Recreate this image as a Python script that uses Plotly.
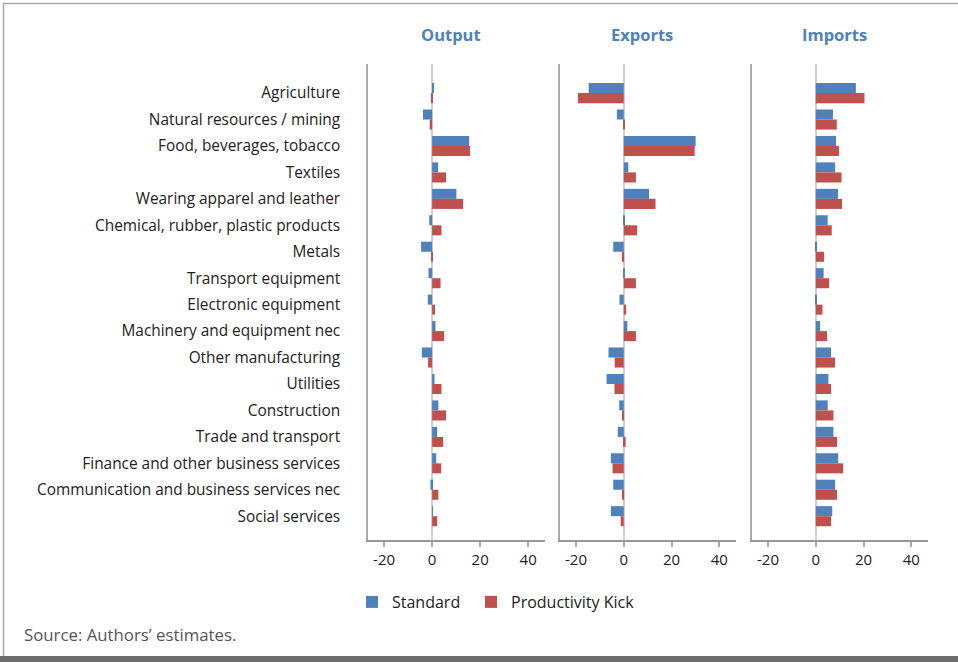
import plotly.graph_objects as go

categories = [
    "Agriculture", "Natural resources / mining", "Food, beverages, tobacco", "Textiles",
    "Wearing apparel and leather", "Chemical, rubber, plastic products", "Metals",
    "Transport equipment", "Electronic equipment", "Machinery and equipment nec",
    "Other manufacturing", "Utilities", "Construction", "Trade and transport",
    "Finance and other business services", "Communication and business services nec",
    "Social services",
]

output_standard = [0.4, -3.8, 15.4, 2.5, 10.1, -1.2, -4.6, -1.5, -1.8, 1.4, -4.3, 1.0, 2.6, 2.1, 1.7, -0.7, 0.3]
output_kick = [-0.5, -1.0, 15.8, 5.8, 12.9, 3.9, -0.4, 3.5, 1.2, 5.0, -1.7, 3.9, 5.8, 4.6, 3.8, 2.6, 2.1]

exports_standard = [-14.7, -2.9, 30.1, 1.9, 10.6, 0.3, -4.4, 0.2, -1.8, 1.5, -6.4, -7.2, -1.9, -2.5, -5.4, -4.4, -5.4]
exports_kick = [-19.2, 0.3, 29.7, 5.1, 13.3, 5.6, -0.8, 5.1, 1.0, 5.1, -3.8, -3.9, -0.4, 0.8, -4.7, -0.7, -1.3]

imports_standard = [16.8, 7.2, 8.5, 8.1, 9.3, 5.0, 0.5, 3.3, 0.4, 1.8, 6.4, 5.3, 5.0, 7.4, 9.4, 8.1, 6.9]
imports_kick = [20.4, 8.8, 9.7, 10.8, 11.0, 6.7, 3.5, 5.6, 2.8, 4.7, 8.1, 6.4, 7.4, 8.9, 11.5, 8.9, 6.4]

panel_titles = ["Output", "Exports", "Imports"]
series_names = ["Standard", "Productivity Kick"]
x_ticks = [-20, 0, 20, 40]

BLUE = "#4F81BD"
RED = "#C0504D"
FONT = "Open Sans"
W, H = 958, 662

panels = [
    (output_standard, output_kick),
    (exports_standard, exports_kick),
    (imports_standard, imports_kick),
]
px_domains = [(368, 545), (560, 736), (752, 928)]
y_dom = [1 - 540 / H, 1 - 64 / H]

fig = go.Figure()
for i, (std, kick) in enumerate(panels):
    suffix = "" if i == 0 else str(i + 1)
    for j, (name, vals, col) in enumerate(((series_names[0], std, BLUE), (series_names[1], kick, RED))):
        fig.add_trace(go.Bar(
            x=vals, y=categories, orientation="h", name=name,
            marker=dict(color=col, line=dict(width=0)),
            xaxis="x" + suffix, yaxis="y" + suffix,
            showlegend=(i == 0), legendgroup=name,
            legend="legend" if j == 0 else "legend2",
        ))

leg_common = dict(orientation="h", y=1 - 585 / H, xanchor="left", yanchor="top",
                  font=dict(size=16, color="#222"), itemwidth=30, bgcolor="rgba(0,0,0,0)")
layout = dict(
    width=W, height=H, barmode="group", bargap=0.24, bargroupgap=0,
    margin=dict(l=0, r=0, t=0, b=0),
    paper_bgcolor="white", plot_bgcolor="white",
    font=dict(family=FONT, size=15, color="#222"),
    showlegend=True,
    legend=dict(x=352 / W, **leg_common),
    legend2=dict(x=471 / W, **leg_common),
)
for i in range(3):
    suffix = "" if i == 0 else str(i + 1)
    x0, x1 = px_domains[i]
    layout["xaxis" + suffix] = dict(
        domain=[x0 / W, x1 / W], range=[-26.7, 47], anchor="y" + suffix,
        tickvals=x_ticks, ticktext=[str(t) for t in x_ticks],
        showline=True, linecolor="#999", linewidth=1.5,
        ticks="outside", ticklen=5, tickcolor="#aaa", tickwidth=1.5,
        showgrid=False, zeroline=True, zerolinecolor="#cfcfcf", zerolinewidth=2,
        tickfont=dict(size=15, color="#222"), fixedrange=True,
    )
    layout["yaxis" + suffix] = dict(
        domain=y_dom, anchor="x" + suffix, type="category",
        categoryorder="array", categoryarray=categories,
        range=[16.9, -1.1],
        showline=True, linecolor="#aaa", linewidth=1.5,
        showgrid=False, ticks="",
        showticklabels=(i == 0), ticklabelstandoff=23,
        tickfont=dict(size=15.4, color="#222"), fixedrange=True,
    )
fig.update_layout(**layout)

title_x = [451, 642, 834]
for t, xp in zip(panel_titles, title_x):
    fig.add_annotation(text="<b>%s</b>" % t, x=xp / W, y=1 - 34 / H, xref="paper", yref="paper",
                       showarrow=False, font=dict(size=16.5, color="#4F81BD", family=FONT),
                       xanchor="center", yanchor="middle")

fig.add_annotation(text="Source: Authors’ estimates.", x=22 / W, y=1 - 634 / H, xref="paper", yref="paper",
                   showarrow=False, font=dict(size=16.8, color="#555", family=FONT),
                   xanchor="left", yanchor="middle")

# frame
fig.add_shape(type="line", xref="paper", yref="paper", x0=3 / W, x1=1, y0=1 - 3.5 / H, y1=1 - 3.5 / H,
              line=dict(color="#aaa", width=1.5))
fig.add_shape(type="line", xref="paper", yref="paper", x0=3.5 / W, x1=3.5 / W, y0=1 - 3 / H, y1=6 / H,
              line=dict(color="#aaa", width=1.5))
fig.add_shape(type="rect", xref="paper", yref="paper", x0=0, x1=1, y0=0, y1=6 / H,
              line=dict(width=0), fillcolor="#6e6e6e")

fig.write_html("out.html", config={"displayModeBar": False},
               post_script="document.body.style.margin='0';document.body.style.overflow='hidden';")
